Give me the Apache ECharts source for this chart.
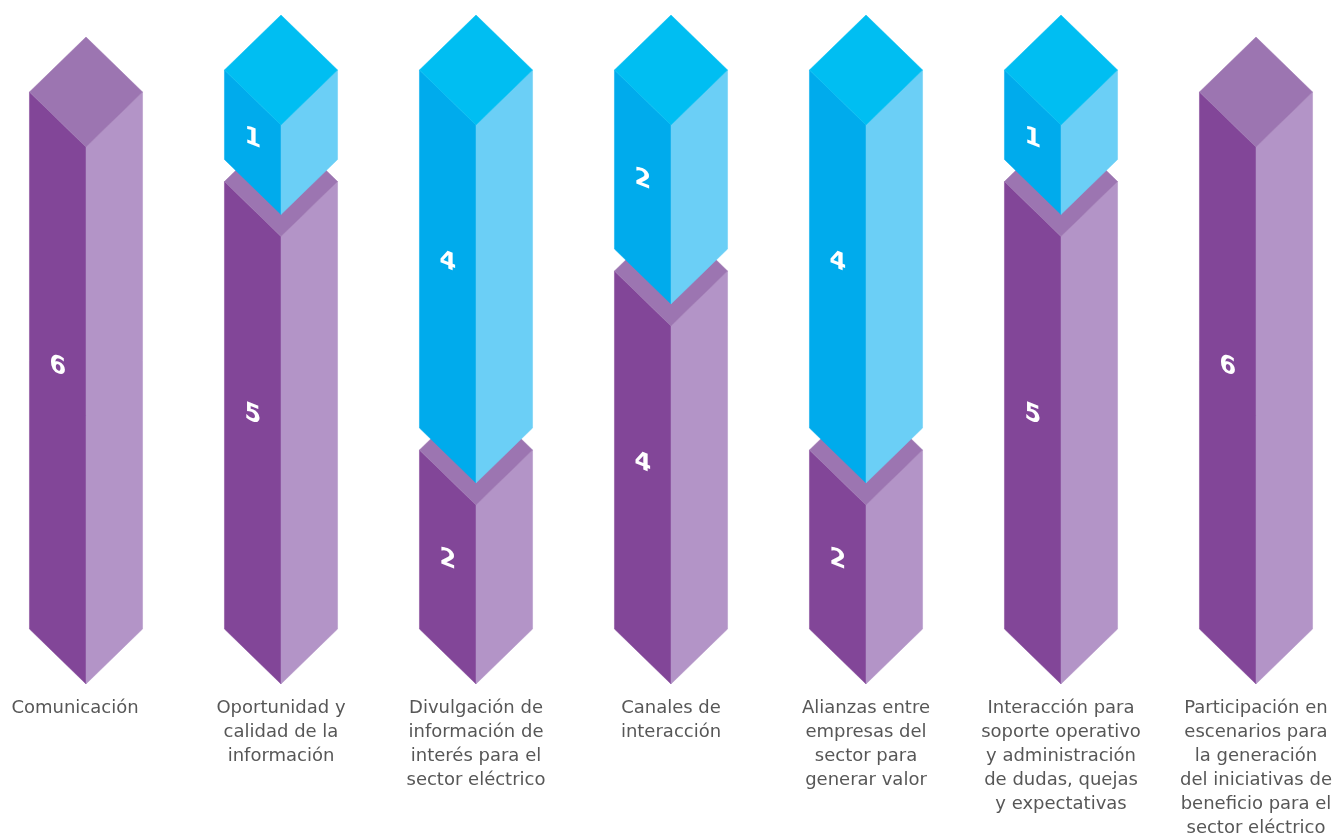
<!DOCTYPE html>
<html>
<head>
<meta charset="utf-8">
<script src="https://cdn.jsdelivr.net/npm/echarts@6/dist/echarts.min.js"></script>
<style>html,body{margin:0;padding:0;background:#ffffff;}#chart{width:1340px;height:836px;}</style>
</head>
<body>
<div id="chart"></div>
<script>
// ---- data ----
const categories = [
  'Comunicación',
  'Oportunidad y\ncalidad de la\ninformación',
  'Divulgación de\ninformación de\ninterés para el\nsector eléctrico',
  'Canales de\ninteracción',
  'Alianzas entre\nempresas del\nsector para\ngenerar valor',
  'Interacción para\nsoporte operativo\ny administración\nde dudas, quejas\ny expectativas',
  'Participación en\nescenarios para\nla generación\ndel iniciativas de\nbeneficio para el\nsector eléctrico'
];
const purpleValues = [6, 5, 2, 4, 2, 5, 6];
const blueValues   = [0, 1, 4, 2, 4, 1, 0];

// ---- styles ----
const PURPLE = { left: '#824698', right: '#B394C7', top: '#9C75B1' };
const BLUE   = { left: '#00ABEC', right: '#6BCFF6', top: '#00BEF2' };
const HALF_DEPTH = 55;   // px, vertical half-height of the top diamond
const GAP = 22;          // px, lift of the upper block
const LABEL_FRAC = 0.46; // label position along the left face, from its top
const SKEW = -Math.atan(0.4);

const seriesData = categories.map((c, i) => [i, purpleValues[i], blueValues[i]]);

function prism(cx, yTop, yBot, hw, hd, col) {
  return [
    { type: 'polygon', shape: { points: [[cx - hw, yTop], [cx, yTop + hd], [cx, yBot + hd], [cx - hw, yBot]] },
      style: { fill: col.left, stroke: col.left, lineWidth: 0.5 } },
    { type: 'polygon', shape: { points: [[cx, yTop + hd], [cx + hw, yTop], [cx + hw, yBot], [cx, yBot + hd]] },
      style: { fill: col.right, stroke: col.right, lineWidth: 0.5 } },
    { type: 'polygon', shape: { points: [[cx - hw, yTop], [cx, yTop - hd], [cx + hw, yTop], [cx, yTop + hd]] },
      style: { fill: col.top, stroke: col.top, lineWidth: 0.5 } }
  ];
}
function faceLabel(cx, yTop, yBot, hw, hd, value) {
  const faceTop = yTop + hd / 2;
  const faceBot = yBot + hd / 2;
  return {
    type: 'text',
    x: cx - hw / 2,
    y: faceTop + (faceBot - faceTop) * LABEL_FRAC,
    skewY: SKEW,
    style: {
      text: String(value),
      x: 0, y: 0,
      fill: '#ffffff',
      font: 'bold 24px "DejaVu Sans"',
      align: 'center',
      verticalAlign: 'middle'
    }
  };
}

function renderItem(params, api) {
  const i = api.value(0);
  const p = api.value(1);
  const b = api.value(2);
  const base = api.coord([i, 0]);
  const cx = base[0];
  const hw = api.size([1, 0])[0] * 0.29;
  const hd = HALF_DEPTH;
  const children = [];
  if (p > 0) {
    const top = api.coord([i, p])[1];
    children.push(...prism(cx, top, base[1], hw, hd, PURPLE));
    children.push(faceLabel(cx, top, base[1], hw, hd, p));
  }
  if (b > 0) {
    const bBot = api.coord([i, p])[1] - GAP;
    const bTop = api.coord([i, p + b])[1] - GAP;
    children.push(...prism(cx, bTop, bBot, hw, hd, BLUE));
    children.push(faceLabel(cx, bTop, bBot, hw, hd, b));
  }
  return { type: 'group', children: children };
}

const axisData = categories.map((c, i) => i === 0
  ? { value: c, textStyle: { padding: [0, 22, 0, 0] } }
  : c);

const chart = echarts.init(document.getElementById('chart'), null, { renderer: 'canvas' });
chart.setOption({
  animation: false,
  backgroundColor: '#ffffff',
  grid: { left: 86, right: 84, top: 92, bottom: 207, containLabel: false, outerBoundsMode: 'none' },
  xAxis: {
    type: 'category',
    data: axisData,
    boundaryGap: false,
    axisLine: { show: false },
    axisTick: { show: false },
    splitLine: { show: false },
    axisLabel: {
      interval: 0,
      margin: 67,
      fontSize: 18,
      lineHeight: 24,
      color: '#575757',
      fontFamily: '"DejaVu Sans", Verdana, sans-serif',
      align: 'center'
    }
  },
  yAxis: { type: 'value', min: 0, max: 6, show: false },
  series: [{
    type: 'custom',
    clip: false,
    renderItem: renderItem,
    encode: { x: 0, y: 1 },
    data: seriesData
  }]
});
</script>
</body>
</html>
